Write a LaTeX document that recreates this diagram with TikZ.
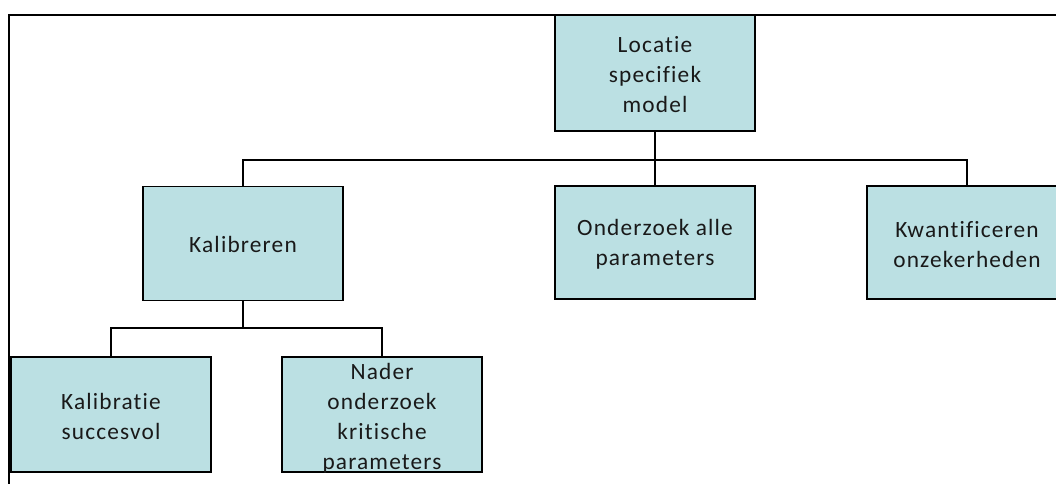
\documentclass[tikz,border=0pt]{standalone}
\usepackage{fontspec}
\setmainfont{Carlito}[Ligatures={NoCommon}, LetterSpace=5]
\begin{document}
\begin{tikzpicture}[x=0.75pt,y=-0.75pt,
  box/.style={draw=black, line width=1.3pt, fill=boxfill, minimum width=150pt, minimum height=85.5pt, inner sep=0pt},
  lbl/.style={align=center, font=\fontsize{17.5}{22.5}\selectfont, inner sep=0pt, text=black!90},
  link/.style={draw=black, line width=1.2pt},
  frame/.style={draw=black, line width=1.6pt}]
\definecolor{boxfill}{HTML}{BBE0E3}
\useasboundingbox (0,0) rectangle (1056,483);
\clip (0,0) rectangle (1056,483);

% outer frame (top and left edges)
\draw[frame] (1060,15) -- (9,15) -- (9,490);

% boxes
\node[box, minimum height=87pt] (top) at (655,73) {};
\node[box] (kal)  at (243,243.5) {};
\node[box, minimum height=84.75pt] (ond)  at (655,242.5) {};
\node[box, minimum height=84.75pt] (kwa)  at (967,242.5) {};
\node[box, minimum height=86.25pt] (kals) at (111,414.5) {};
\node[box, minimum height=86.25pt] (nader) at (382,414.5) {};

% labels
\node[lbl] (ttop)   at ([yshift=-1pt]top.center)   {Locatie\\specifiek\\model};
\node[lbl] (tkal)   at ([yshift=-1pt]kal.center)   {Kalibreren};
\node[lbl] (tond)   at ([yshift=-1.5pt]ond.center)   {Onderzoek alle\\parameters};
\node[lbl] (tkwa)   at ([yshift=-1.5pt]kwa.center)   {Kwantificeren\\onzekerheden};
\node[lbl] (tkals)  at ([yshift=-1.5pt]kals.center)  {Kalibratie\\succesvol};
\node[lbl] (tnader) at ([yshift=-3pt]nader.center) {Nader\\onderzoek\\kritische\\parameters};

% connectors
\coordinate (bus1) at (655,160);
\coordinate (bus2) at (243,328);
\draw[link] (top.south) -- (ond.north);
\draw[link] (kal.north) |- (bus1) -| (kwa.north);
\draw[link] (kal.south) -- (bus2);
\draw[link] (kals.north) |- (bus2) -| (nader.north);
\end{tikzpicture}
\end{document}
